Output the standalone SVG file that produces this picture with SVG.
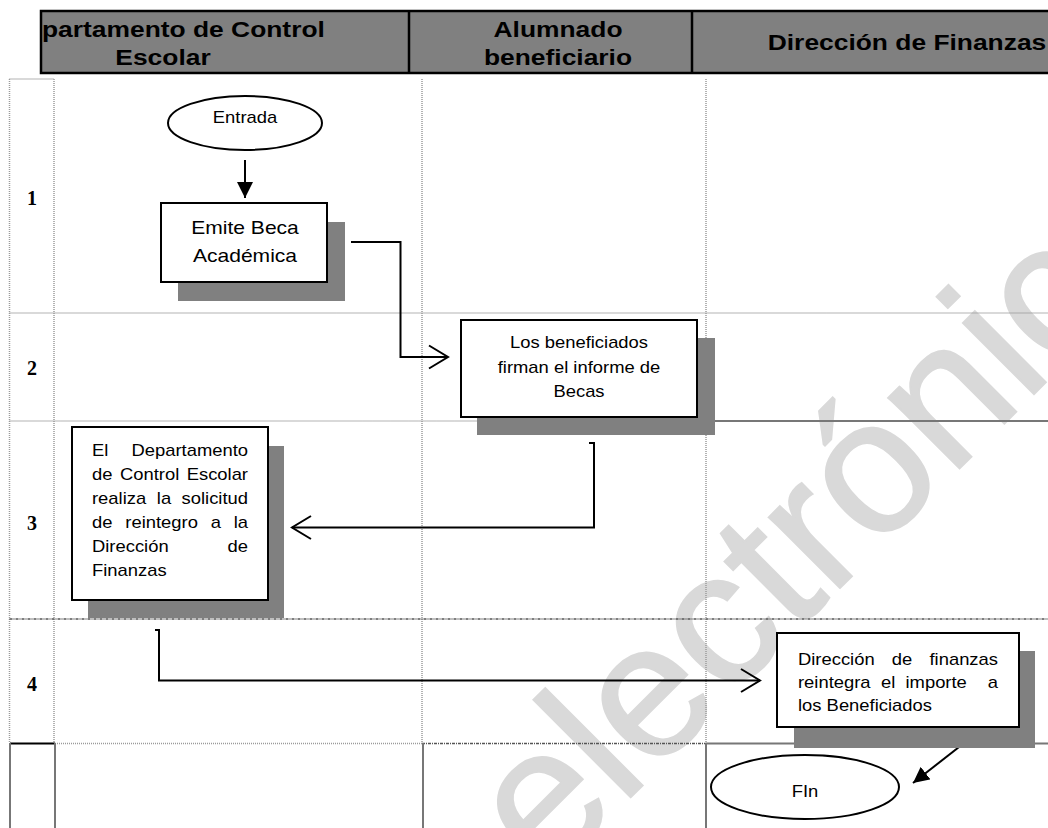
<svg xmlns="http://www.w3.org/2000/svg" width="1048" height="828" viewBox="0 0 1048 828">
<style>
.hdr{font-family:"Liberation Sans",Arial,sans-serif;font-weight:bold;font-size:22px;fill:#000}
.t{font-family:"Liberation Sans",Arial,sans-serif;font-size:16px;fill:#000}
.num{font-family:"Liberation Serif","Times New Roman",serif;font-weight:bold;font-size:20px;fill:#000}
.wm{font-family:"Liberation Sans",Arial,sans-serif;font-size:190px;fill:#d9d9d9;stroke:#d9d9d9;stroke-width:2}
.box{fill:#fff;stroke:#000;stroke-width:2}
.shadow{fill:#808080}
.grid{fill:none;stroke:#9a9a9a;stroke-width:1.5;stroke-dasharray:1 1}
.gridd{fill:none;stroke:#555;stroke-width:1.5;stroke-dasharray:3 1 1 1}
.solid{fill:none;stroke:#777;stroke-width:2}
.conn{fill:none;stroke:#000;stroke-width:2}
</style>
<defs>
<marker id="filled" markerUnits="userSpaceOnUse" markerWidth="16" markerHeight="16" viewBox="0 0 16 16" refX="16" refY="8" orient="auto">
<path d="M0,0 L16,8 L0,16 Z" fill="#000"/>
</marker>
<marker id="open" markerUnits="userSpaceOnUse" markerWidth="22" markerHeight="26" viewBox="0 0 22 26" refX="20" refY="13" orient="auto" overflow="visible">
<path d="M1,1.5 L20,13 L1,24.5" fill="none" stroke="#000" stroke-width="2"/>
</marker>
</defs>
<rect width="1048" height="828" fill="#fff"/>
<text class="wm" transform="translate(547 881) rotate(-45)">electrónico</text>

<g id="header">
<rect x="41" y="11" width="1012" height="62" fill="#808080" stroke="#000" stroke-width="2.5"/>
<line x1="409" y1="11" x2="409" y2="73" stroke="#000" stroke-width="2.5"/>
<line x1="692" y1="11" x2="692" y2="73" stroke="#000" stroke-width="2.5"/>
<text class="hdr" transform="translate(42 37) scale(1.2 1)">partamento de Control</text>
<text class="hdr" text-anchor="middle" transform="translate(163 65) scale(1.2 1)">Escolar</text>
<text class="hdr" text-anchor="middle" transform="translate(558 37) scale(1.2 1)">Alumnado</text>
<text class="hdr" text-anchor="middle" transform="translate(558 65) scale(1.2 1)">beneficiario</text>
<text class="hdr" text-anchor="middle" transform="translate(907 50) scale(1.2 1)">Dirección de Finanzas</text>
</g>

<g id="grid">
<path class="grid" d="M9.5,79 H54 M9.5,79 V743 M54,79 V743 M422,79 V743 M706,79 V743"/>
<path class="grid" d="M9.5,313 H1048 M9.5,421 H706"/>
<path class="solid" d="M706,421 H1048" stroke-width="1.5"/>
<path class="gridd" d="M9.5,619 H1048"/>
<path d="M10,743.5 H55" stroke="#000" stroke-width="2"/>
<path class="grid" d="M55,743.5 H422"/>
<path class="gridd" d="M422,743.5 H706"/>
<path class="solid" d="M706,743.5 H1048"/>
<path class="solid" d="M10,743 V828 M55,743 V828 M423,743 V828 M706,743 V828"/>
<text class="num" text-anchor="middle" x="32" y="205">1</text>
<text class="num" text-anchor="middle" x="32" y="375">2</text>
<text class="num" text-anchor="middle" x="32" y="530">3</text>
<text class="num" text-anchor="middle" x="32" y="691">4</text>
</g>

<g id="connectors">
<path class="conn" d="M245,160 V198" marker-end="url(#filled)"/>
<path class="conn" d="M351,242 H400.5 V357 H448" marker-end="url(#open)"/>
<path class="conn" d="M589,443 H594 V527.5 H292" marker-end="url(#open)"/>
<path class="conn" d="M155,630 H159 V680.5 H760" marker-end="url(#open)"/>
<path class="conn" d="M968,740 L913,783" marker-end="url(#filled)"/>
</g>

<g id="n_entrada">
<ellipse class="box" cx="245" cy="123" rx="77" ry="27"/>
<text class="t" text-anchor="middle" transform="translate(245 123) scale(1.15 1)">Entrada</text>
</g>

<g id="n_emite">
<rect class="shadow" x="178" y="222" width="167" height="79"/>
<rect class="box" x="161" y="203" width="166" height="79"/>
<text class="t" style="font-size:18px" text-anchor="middle" transform="translate(245 234) scale(1.17 1)">Emite Beca</text>
<text class="t" style="font-size:18px" text-anchor="middle" transform="translate(245 262) scale(1.17 1)">Académica</text>
</g>

<g id="n_firman">
<rect class="shadow" x="477" y="338" width="238" height="97"/>
<rect class="box" x="461" y="320" width="236" height="97"/>
<text class="t" text-anchor="middle" transform="translate(579 348) scale(1.15 1)">Los beneficiados</text>
<text class="t" text-anchor="middle" transform="translate(579 372.5) scale(1.15 1)">firman el informe de</text>
<text class="t" text-anchor="middle" transform="translate(579 396.5) scale(1.15 1)">Becas</text>
</g>

<g id="n_solicitud">
<rect class="shadow" x="88" y="446" width="196" height="172"/>
<rect class="box" x="72" y="427" width="196" height="173"/>
<text class="t" transform="translate(92 456) scale(1.15 1)">El</text>
<text class="t" text-anchor="end" transform="translate(248 456) scale(1.15 1)">Departamento</text>
<text class="t" transform="translate(92 480) scale(1.15 1)">de</text>
<text class="t" text-anchor="middle" transform="translate(149.6 480) scale(1.15 1)">Control</text>
<text class="t" text-anchor="end" transform="translate(248 480) scale(1.15 1)">Escolar</text>
<text class="t" transform="translate(92 504) scale(1.15 1)">realiza</text>
<text class="t" text-anchor="middle" transform="translate(164 504) scale(1.15 1)">la</text>
<text class="t" text-anchor="end" transform="translate(248 504) scale(1.15 1)">solicitud</text>
<text class="t" transform="translate(92 528) scale(1.15 1)">de</text>
<text class="t" text-anchor="middle" transform="translate(161.6 528) scale(1.15 1)">reintegro</text>
<text class="t" text-anchor="middle" transform="translate(215.8 528) scale(1.15 1)">a</text>
<text class="t" text-anchor="end" transform="translate(248 528) scale(1.15 1)">la</text>
<text class="t" transform="translate(92 552) scale(1.15 1)">Dirección</text>
<text class="t" text-anchor="end" transform="translate(248 552) scale(1.15 1)">de</text>
<text class="t" transform="translate(92 576) scale(1.15 1)">Finanzas</text>
</g>

<g id="n_reintegra">
<rect class="shadow" x="794" y="651" width="241" height="97"/>
<rect class="box" x="777" y="633" width="242" height="94"/>
<text class="t" transform="translate(798 665) scale(1.15 1)">Dirección</text>
<text class="t" text-anchor="middle" transform="translate(902 665) scale(1.15 1)">de</text>
<text class="t" text-anchor="end" transform="translate(998 665) scale(1.15 1)">finanzas</text>
<text class="t" transform="translate(798 688) scale(1.15 1)">reintegra</text>
<text class="t" transform="translate(881 688) scale(1.15 1)">el</text>
<text class="t" transform="translate(905.5 688) scale(1.15 1)">importe</text>
<text class="t" text-anchor="end" transform="translate(998 688) scale(1.15 1)">a</text>
<text class="t" transform="translate(798 711) scale(1.15 1)">los Beneficiados</text>
</g>

<g id="n_fin">
<ellipse class="box" cx="805" cy="787" rx="94" ry="32"/>
<text class="t" text-anchor="middle" transform="translate(805 797) scale(1.15 1)">FIn</text>
</g>
</svg>
